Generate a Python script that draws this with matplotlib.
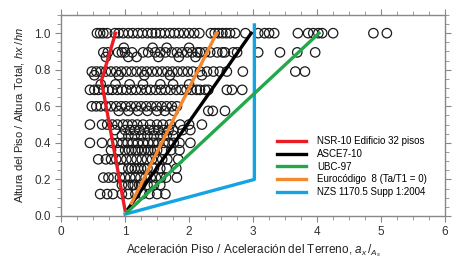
import matplotlib
matplotlib.use("Agg")
import matplotlib.pyplot as plt
from matplotlib.ticker import MultipleLocator

plt.rcParams['font.family'] = ['Liberation Sans', 'DejaVu Sans']
plt.rcParams['mathtext.fontset'] = 'custom'
plt.rcParams['mathtext.it'] = 'Liberation Sans:italic'
plt.rcParams['mathtext.rm'] = 'Liberation Sans'

# Recorded floor accelerations (rows by height ratio)
y_levels = [1.00, 0.895, 0.87, 0.92, 0.79, 0.77, 0.69, 0.72, 0.60, 0.575,
            0.50, 0.47, 0.44, 0.40, 0.36, 0.31, 0.26, 0.21, 0.17, 0.12]
x_rows = [
    [0.56, 0.61, 0.66, 0.72, 0.84, 0.90, 0.97, 1.05, 1.12, 1.20, 1.27, 1.35, 1.42, 1.48,
     1.55, 1.62, 1.70, 1.77, 1.84, 1.92, 2.00, 2.08, 2.16, 2.34, 2.40, 2.46, 2.52, 2.58,
     2.64, 2.72, 2.88, 3.08, 3.18, 3.25, 3.33, 3.70, 3.86, 3.94, 4.02, 4.08, 4.25, 4.88, 5.09],
    [0.66, 0.73, 0.89, 0.95, 1.00, 1.11, 1.28, 1.36, 1.47, 1.55, 1.63, 1.73, 1.81, 1.89,
     1.97, 2.05, 2.13, 2.17, 2.25, 2.33, 2.44, 2.52, 2.56, 2.69, 2.75, 3.08, 3.42, 3.69, 3.97],
    [0.70, 1.05, 1.18, 1.52, 1.84, 2.10],
    [0.98, 1.43, 1.65, 2.00],
    [0.48, 0.55, 0.62, 0.70, 0.78, 0.86, 0.94, 1.02, 1.10, 1.18, 1.26, 1.34, 1.42, 1.50,
     1.58, 1.66, 1.74, 1.82, 1.90, 1.98, 2.06, 2.17, 2.28, 2.38, 2.48, 2.59, 2.84, 3.66, 3.81],
    [0.52, 0.90, 1.30, 1.70, 2.20],
    [0.45, 0.52, 0.58, 0.66, 0.74, 0.80, 0.88, 0.95, 1.02, 1.10, 1.17, 1.25, 1.33, 1.40,
     1.48, 1.56, 1.63, 1.71, 1.80, 1.88, 1.96, 2.04, 2.12, 2.17, 2.25, 2.30, 2.59, 2.67, 2.83],
    [0.62, 0.85, 1.07, 1.28, 1.55, 1.75, 2.00],
    [0.48, 0.55, 0.62, 0.70, 0.78, 0.86, 0.94, 1.01, 1.09, 1.17, 1.25, 1.33, 1.41, 1.49,
     1.57, 1.65, 1.73, 1.81],
    [0.90, 1.05, 1.20, 1.35, 1.50, 1.62, 1.76, 2.30, 2.37, 2.56],
    [0.45, 0.64, 0.72, 0.80, 0.88, 0.97, 1.04, 1.11, 1.19, 1.28, 1.39, 1.50, 1.59, 1.70,
     1.86, 2.00, 2.20],
    [0.84, 1.00, 1.08, 1.15, 1.22, 1.30, 1.38, 1.45, 1.52, 1.60, 1.68, 1.75, 1.90, 2.02],
    [0.95, 1.05, 1.15, 1.25, 1.35, 1.45, 1.55, 1.65, 1.75],
    [0.45, 0.64, 0.80, 0.88, 0.96, 1.04, 1.12, 1.20, 1.28, 1.36, 1.44, 1.52, 1.60, 1.68,
     1.76, 1.85, 2.02],
    [0.78, 0.90, 1.00, 1.06, 1.10, 1.16, 1.20, 1.26, 1.30, 1.36, 1.40, 1.46, 1.50, 1.60,
     1.72, 1.85],
    [0.58, 0.70, 0.78, 0.86, 0.94, 1.02, 1.10, 1.18, 1.26, 1.34, 1.42, 1.50, 1.58, 1.66, 1.83],
    [0.95, 1.05, 1.10, 1.15, 1.20, 1.25, 1.30, 1.35, 1.45, 1.55, 1.65, 1.80],
    [0.66, 0.74, 0.82, 0.92, 1.00, 1.08, 1.16, 1.24, 1.32, 1.40, 1.48, 1.56, 1.64, 1.81],
    [0.95, 1.05, 1.12, 1.15, 1.22, 1.25, 1.35, 1.45, 1.55],
    [0.61, 0.72, 0.81, 0.95, 1.05, 1.16, 1.27, 1.38, 1.50, 1.63],
]

# Code envelopes
nsr_x = [1.00, 0.63, 0.85]
nsr_y = [0.03, 0.74, 1.00]
asce_x = [1.05, 2.97]
asce_y = [0.04, 1.00]
ubc_x = [1.03, 4.03]
ubc_y = [0.02, 1.00]
euro_x = [1.10, 2.43]
euro_y = [0.07, 1.00]
nzs_x = [1.00, 3.02, 3.02]
nzs_y = [0.01, 0.20, 1.045]

labels = ["NSR-10 Edificio 32 pisos", "ASCE7-10", "UBC-97",
          "Eurocódigo  8 (Ta/T1 = 0)", "NZS 1170.5 Supp 1:2004"]
colors = ["#ec1c24", "#000000", "#22a84a", "#f7872b", "#14a3e3"]

fig = plt.figure(figsize=(4.7, 2.66), dpi=100)
ax = fig.add_axes([0.13, 0.188, 0.817, 0.756])

for yl, xr in zip(y_levels, x_rows):
    ax.scatter(xr, [yl] * len(xr), s=46, facecolors='none', edgecolors='#1a1a1a',
               linewidths=0.9, zorder=2)

lw = 2.4
ax.plot(nzs_x, nzs_y, color=colors[4], lw=lw, zorder=3)
h1, = ax.plot(nsr_x, nsr_y, color=colors[0], lw=lw, zorder=4)
h2, = ax.plot(asce_x, asce_y, color=colors[1], lw=lw, zorder=4)
h3, = ax.plot(ubc_x, ubc_y, color=colors[2], lw=lw, zorder=4)
h4, = ax.plot(euro_x, euro_y, color=colors[3], lw=lw, zorder=4)
h5, = ax.plot([], [], color=colors[4], lw=lw)

ax.set_xlim(0, 6)
ax.set_ylim(0, 1.1)
ax.xaxis.set_major_locator(MultipleLocator(1))
ax.xaxis.set_minor_locator(MultipleLocator(0.25))
ax.yaxis.set_minor_locator(MultipleLocator(0.05))
ax.set_yticks([0, 0.2, 0.4, 0.6, 0.8, 1.0])
ax.set_yticklabels(["0.0", "0.2", "0.4", "0.6", "0.8", "1.0"])
ax.tick_params(which='both', direction='out', top=True, right=True,
               color='#888888', labelsize=8.5, labelcolor='#333333')
ax.tick_params(which='major', length=4, width=0.8)
ax.tick_params(which='minor', length=3, width=0.6)
for sp in ax.spines.values():
    sp.set_color('#888888')
    sp.set_linewidth(1.0)

ax.set_xlabel(r"Aceleración Piso / Aceleración del Terreno, $a_x\,/_{A_s}$",
              fontsize=8.5, color='#222222', labelpad=3)
ax.set_ylabel(r"Altura del Piso / Altura Total, $hx$ /$hn$",
              fontsize=8, color='#222222', labelpad=6)

ax.legend([h1, h2, h3, h4, h5], labels, loc='center left',
          bbox_to_anchor=(0.545, 0.245), frameon=False, fontsize=7,
          handlelength=3.0, handletextpad=1.1, labelspacing=0.28,
          borderpad=0.2)

fig.savefig("out.png", dpi=100)
